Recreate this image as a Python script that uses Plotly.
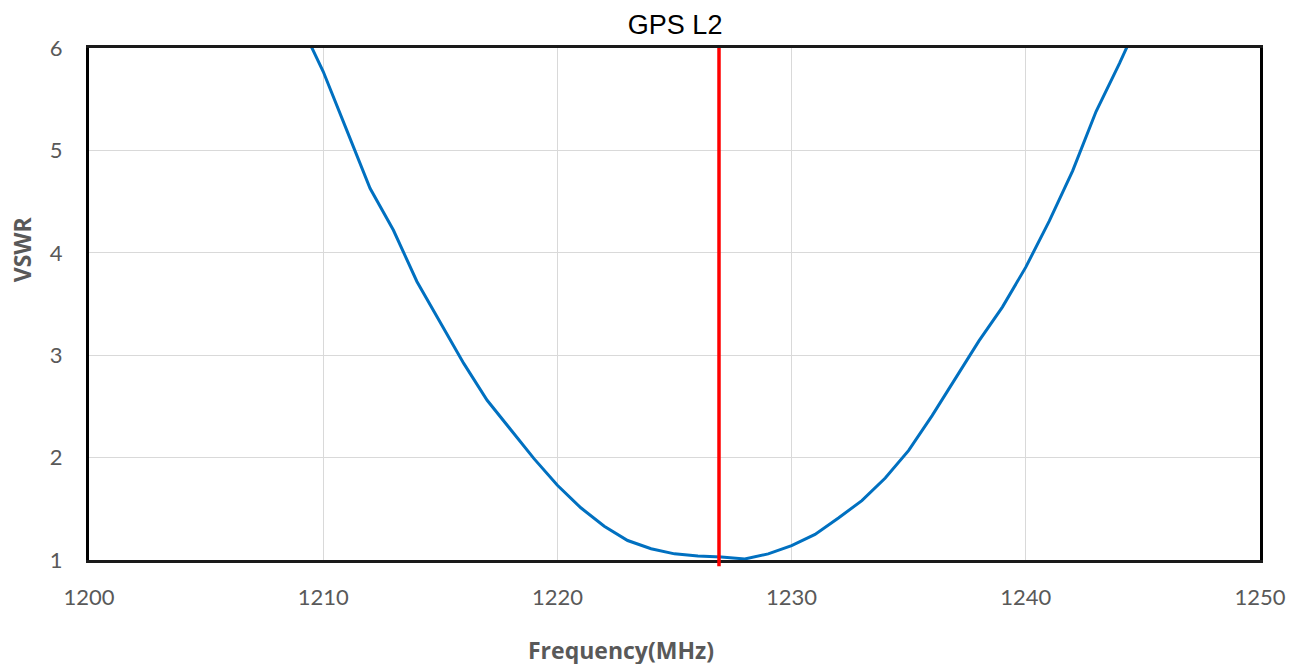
import plotly.graph_objects as go

# Data
freq_mhz = [1209, 1210, 1211, 1212, 1213, 1214, 1215, 1216, 1217, 1218, 1219,
            1220, 1221, 1222, 1223, 1224, 1225, 1226, 1227, 1228, 1229, 1230,
            1231, 1232, 1233, 1234, 1235, 1236, 1237, 1238, 1239, 1240, 1241,
            1242, 1243, 1244, 1245]
vswr = [6.25, 5.77, 5.20, 4.63, 4.22, 3.72, 3.32, 2.92, 2.56, 2.27, 1.99,
        1.73, 1.51, 1.33, 1.19, 1.11, 1.06, 1.04, 1.03, 1.01, 1.06, 1.14,
        1.25, 1.41, 1.58, 1.80, 2.07, 2.41, 2.77, 3.14, 3.47, 3.86, 4.31,
        4.80, 5.38, 5.85, 6.35]
marker_freq = 1226.9
x_ticks = [1200, 1210, 1220, 1230, 1240, 1250]
y_ticks = [1, 2, 3, 4, 5, 6]

tick_font = dict(family="Lato, Open Sans, sans-serif", size=22, color="#595959")
title_font = dict(family="Open Sans, sans-serif", size=23, color="#595959")

fig = go.Figure()
fig.add_trace(go.Scatter(
    x=freq_mhz, y=vswr, mode="lines",
    line=dict(color="#0070C0", width=3),
    showlegend=False, hoverinfo="x+y",
))

fig.add_shape(type="line", xref="x", yref="paper",
              x0=marker_freq, x1=marker_freq, y0=-0.012, y1=1,
              line=dict(color="#FF0000", width=3.5), layer="above")

fig.update_layout(
    width=1303, height=664,
    margin=dict(l=81, r=51, t=40, b=112),
    paper_bgcolor="white", plot_bgcolor="white",
    title=dict(text="GPS L2", x=0.512, xanchor="center", y=0.975, yanchor="middle",
               font=dict(family="Liberation Sans, Arial, sans-serif", size=27, color="#000000")),
    annotations=[
        dict(text="<b>Frequency(MHz)</b>", xref="x", yref="paper",
             x=1222.7, y=-0.175, xanchor="center", yanchor="middle",
             showarrow=False, font=title_font),
        dict(text="<b>VSWR</b>", xref="paper", yref="y",
             x=-0.073, y=4.03, xanchor="left", yanchor="middle", textangle=-90,
             showarrow=False, font=title_font),
    ],
)
fig.update_xaxes(
    range=[1200, 1250], tickvals=x_ticks, ticktext=[str(v) for v in x_ticks],
    showgrid=True, gridcolor="#D9D9D9", gridwidth=1,
    showline=True, linecolor="#1a1a1a", linewidth=3, mirror=True,
    zeroline=False, ticks="", tickfont=tick_font, ticklabelstandoff=16,
)
fig.update_yaxes(
    range=[1, 6], tickvals=y_ticks, ticktext=[str(v) for v in y_ticks],
    showgrid=True, gridcolor="#D9D9D9", gridwidth=1,
    showline=True, linecolor="#000000", linewidth=3, mirror=True,
    zeroline=False, ticks="", tickfont=tick_font, ticklabelstandoff=19,
)

fig.write_html("out.html")
